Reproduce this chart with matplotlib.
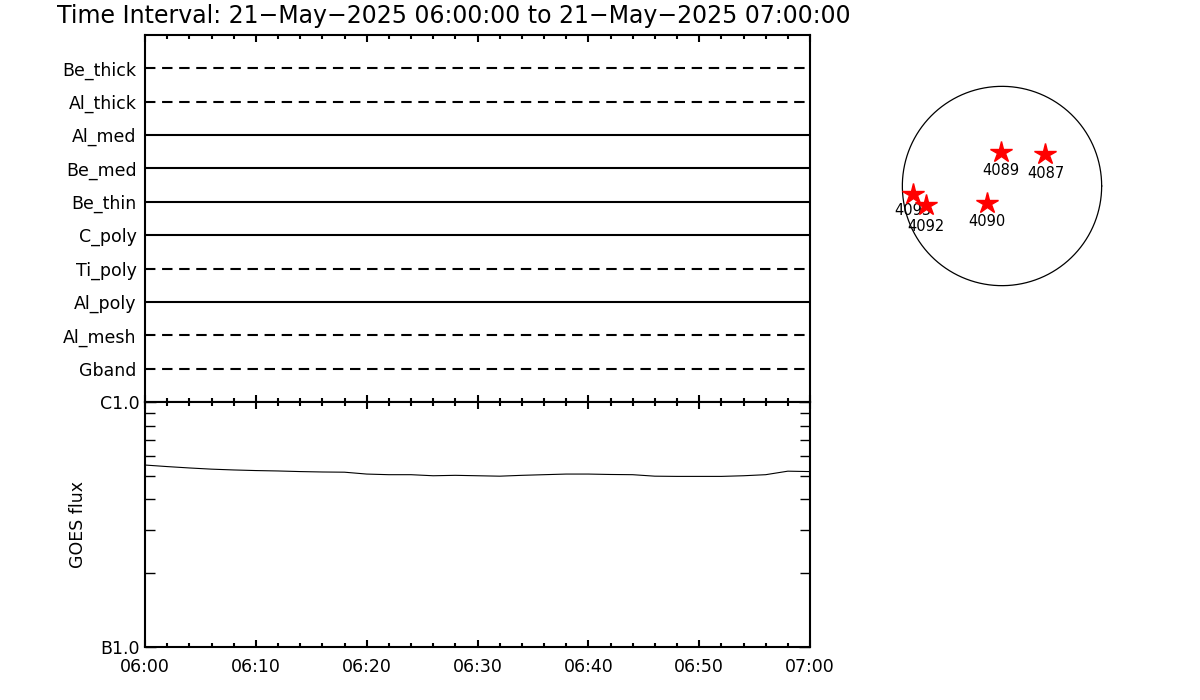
import matplotlib
matplotlib.use('Agg')
import matplotlib.pyplot as plt
import numpy as np

# --- data ---
title = 'Time Interval: 21\u2212May\u22122025 06:00:00 to 21\u2212May\u22122025 07:00:00'
filters = ['Gband', 'Al_mesh', 'Al_poly', 'Ti_poly', 'C_poly',
           'Be_thin', 'Be_med', 'Al_med', 'Al_thick', 'Be_thick']
filter_dashed = [True, True, False, True, False, False, False, False, True, True]
obs_start = [0, 0, 0, 0, 0, 0, 0, 0, 0, 0]     # minutes after 06:00
obs_end = [60, 60, 60, 60, 60, 60, 60, 60, 60, 60]

goes_t = [0, 2, 4, 6, 8, 10, 12, 14, 16, 18, 20, 22, 24, 26, 28, 30,
          32, 34, 36, 38, 40, 42, 44, 46, 48, 50, 52, 54, 56, 58, 60]
goes_flux = [5.53e-7, 5.45e-7, 5.38e-7, 5.32e-7, 5.28e-7, 5.25e-7, 5.23e-7,
             5.20e-7, 5.18e-7, 5.17e-7, 5.08e-7, 5.05e-7, 5.05e-7, 5.00e-7,
             5.02e-7, 5.00e-7, 4.98e-7, 5.02e-7, 5.05e-7, 5.08e-7, 5.08e-7,
             5.06e-7, 5.05e-7, 4.98e-7, 4.97e-7, 4.97e-7, 4.97e-7, 5.00e-7,
             5.05e-7, 5.22e-7, 5.20e-7]

time_ticks = [0, 10, 20, 30, 40, 50, 60]
time_labels = ['06:00', '06:10', '06:20', '06:30', '06:40', '06:50', '07:00']

ar_names = ['4089', '4087', '4093', '4092', '4090']
ar_x = [-14, 419, -862, -732, -149]     # arcsec
ar_y = [330, 305, -77, -183, -161]
r_sun = 960

lw_axis = 1.5
fs = 12.5

fig = plt.figure(figsize=(12, 7), dpi=100)
fig.text(57 / 1200, 1 - 16 / 700, title, fontsize=17, ha='left', va='center')

# --- filter panel ---
ax1 = fig.add_axes([145 / 1200, 1 - 402 / 700, 665 / 1200, 367 / 700])
for i, name in enumerate(filters):
    ls = (0, (5, 3.2)) if filter_dashed[i] else '-'
    ax1.plot([obs_start[i], obs_end[i]], [i + 1, i + 1], color='black',
             lw=1.5, ls=ls, solid_capstyle='butt')
ax1.set_xlim(0, 60)
ax1.set_ylim(0, 11)
ax1.set_yticks(range(1, len(filters) + 1))
ax1.set_yticklabels(filters, fontsize=fs)
ax1.tick_params(axis='y', length=0, pad=6)
ax1.set_xticks(time_ticks)
ax1.set_xticks(np.arange(0, 61, 2), minor=True)
ax1.tick_params(axis='x', which='both', direction='in', top=True, bottom=True,
                labelbottom=False, width=1.5)
ax1.tick_params(axis='x', which='major', length=5)
ax1.tick_params(axis='x', which='minor', length=3)
for s in ax1.spines.values():
    s.set_linewidth(lw_axis)

# --- GOES panel ---
ax2 = fig.add_axes([145 / 1200, 1 - 647 / 700, 665 / 1200, 245 / 700])
ax2.plot(goes_t, goes_flux, color='black', lw=0.8)
ax2.set_yscale('log')
ax2.set_ylim(1e-7, 1e-6)
ax2.set_xlim(0, 60)
ax2.set_yticks([1e-7, 1e-6])
ax2.set_yticklabels(['B1.0', 'C1.0'], fontsize=fs)
ax2.set_yticks([k * 1e-7 for k in range(2, 10)], minor=True)
ax2.yaxis.set_minor_formatter(matplotlib.ticker.NullFormatter())
ax2.tick_params(axis='y', which='both', direction='in', left=True, right=True,
                width=1, pad=4)
ax2.tick_params(axis='y', which='major', length=8)
ax2.tick_params(axis='y', which='minor', length=7)
ax2.set_xticks(time_ticks)
ax2.set_xticklabels(time_labels, fontsize=fs)
ax2.set_xticks(np.arange(0, 61, 2), minor=True)
ax2.tick_params(axis='x', which='both', direction='in', top=True, bottom=True,
                width=1.5, pad=8)
ax2.tick_params(axis='x', which='major', length=5)
ax2.tick_params(axis='x', which='minor', length=3)
ax2.set_ylabel('GOES flux', fontsize=fs, labelpad=9)
for s in ax2.spines.values():
    s.set_linewidth(lw_axis)

# --- solar disk ---
ax3 = fig.add_axes([879.5 / 1200, 1 - 308.5 / 700, 245 / 1200, 245 / 700])
th = np.linspace(0, 2 * np.pi, 400)
ax3.plot(r_sun * np.cos(th), r_sun * np.sin(th), color='black', lw=0.9)
ax3.plot(ar_x, ar_y, ls='none', marker='*', ms=16, color='red', mec='red',
         zorder=4)
label_dy = [-19, -19, -17, -22, -19]
for name, x, y, dy in zip(ar_names, ar_x, ar_y, label_dy):
    ax3.annotate(name, (x, y), xytext=(0, dy), textcoords='offset pixels',
                 ha='center', va='center', fontsize=10.5, zorder=3)
ax3.set_xlim(-1180, 1180)
ax3.set_ylim(-1180, 1180)
ax3.set_aspect('equal')
ax3.axis('off')

fig.savefig('out.png', dpi=100)
